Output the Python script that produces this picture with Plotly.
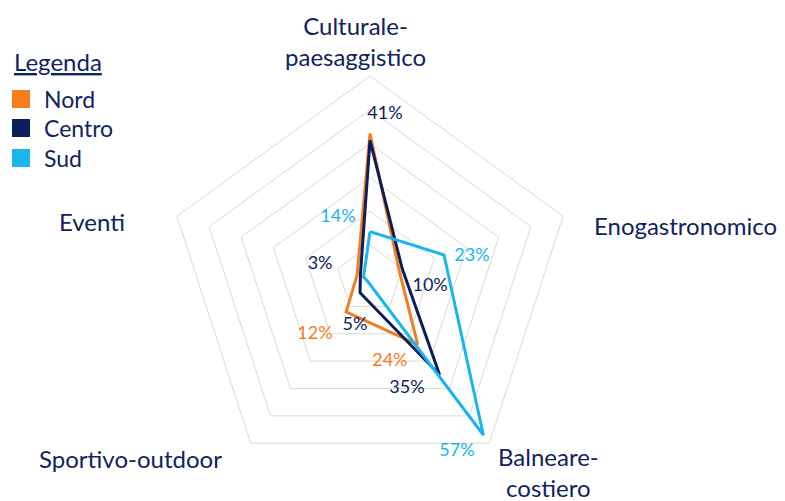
import plotly.graph_objects as go

# ---- data ----
CATEGORIES = ["Culturale-paesaggistico", "Enogastronomico", "Balneare-costiero",
              "Sportivo-outdoor", "Eventi"]
CATEGORY_LABELS = ["Culturale-<br>paesaggistico", "Enogastronomico", "Balneare-<br>costiero",
                   "Sportivo-outdoor", "Eventi"]
SERIES = ["Nord", "Centro", "Sud"]
NORD = [43, 9, 24, 12, 4]
CENTRO = [41, 10, 35, 5, 3]
SUD = [14, 23, 57, 1, 2]
# which values carry a visible % label: (series, category index)
LABELLED = [("Centro", 0), ("Sud", 0), ("Sud", 1), ("Centro", 1), ("Sud", 2),
            ("Centro", 2), ("Nord", 2), ("Nord", 3), ("Centro", 3), ("Centro", 4)]

# ---- style ----
COLORS = {"Nord": "#F47D20", "Centro": "#0B1D5B", "Sud": "#19B5EC"}
TEXT = "#10235F"
FONT = "Lato"
GRID = "#D9D9D9"
# label placement (radius in axis units, angle in degrees clockwise from top)
LABEL_POS = {("Centro", 0): (48.7, 5.2), ("Sud", 0): (20.4, 332.3),
             ("Sud", 1): (30.9, 77.3), ("Centro", 1): (17.9, 96.7),
             ("Sud", 2): (57.0, 153.2), ("Centro", 2): (34.3, 161.4),
             ("Nord", 2): (25.2, 166.5), ("Nord", 3): (23.2, 224.5),
             ("Centro", 3): (14.3, 198.0), ("Centro", 4): (15.4, 286.7)}
W, H = 785, 501
OFF = 8  # page body margin
CAT_POS = [(355, 41), (685, 225), (548, 472), (130, 458), (92, 222)]  # page pixel centres
CX, CY, R = 370, 279, 203
LEG_TITLE = (12, 62)
LEG_ROWS_Y = [99, 128, 158]
LEG_SQ_X = (12, 30)
LEG_TEXT_X = 42
SQ = 18

values = {"Nord": NORD, "Centro": CENTRO, "Sud": SUD}


def fx(px):
    return (px - OFF) / W


def fy(py):
    return 1 - (py - OFF) / H


fig = go.Figure()
for s in SERIES:
    v = values[s]
    fig.add_trace(go.Scatterpolar(
        r=v + [v[0]], theta=CATEGORIES + [CATEGORIES[0]], mode="lines",
        line=dict(color=COLORS[s], width=3), showlegend=False, hoverinfo="skip",
        subplot="polar"))

# percentage labels
for key in LABELLED:
    s, i = key
    rr, th = LABEL_POS[key]
    fig.add_trace(go.Scatterpolar(
        r=[rr], theta=[th], mode="text", text=[f"{values[s][i]}%"],
        textposition="middle center",
        textfont=dict(family=FONT, size=18, color=COLORS[s]),
        showlegend=False, hoverinfo="skip", subplot="polar2", cliponaxis=False))

dom_x = [fx(CX - R), fx(CX + R)]
dom_y = [fy(CY + R), fy(CY - R)]

fig.update_layout(
    width=W, height=H, margin=dict(l=0, r=0, t=0, b=0),
    paper_bgcolor="white", plot_bgcolor="white",
    font=dict(family=FONT, color=TEXT),
    showlegend=False,
    polar=dict(
        domain=dict(x=dom_x, y=dom_y), gridshape="linear", bgcolor="rgba(0,0,0,0)",
        radialaxis=dict(range=[0, 60], dtick=10, showticklabels=False, ticks="",
                        showline=False, gridcolor=GRID, gridwidth=1),
        angularaxis=dict(rotation=90, direction="clockwise", showticklabels=False,
                         ticks="", showgrid=False, showline=True, linecolor=GRID,
                         linewidth=1),
    ),
    polar2=dict(
        domain=dict(x=dom_x, y=dom_y), bgcolor="rgba(0,0,0,0)",
        radialaxis=dict(range=[0, 60], visible=False),
        angularaxis=dict(type="linear", rotation=90, direction="clockwise",
                         visible=False, thetaunit="degrees"),
    ),
)

# category labels
for lab, (px, py) in zip(CATEGORY_LABELS, CAT_POS):
    fig.add_annotation(text=lab, x=fx(px), y=fy(py), xref="paper", yref="paper",
                       xanchor="center", yanchor="middle", showarrow=False,
                       font=dict(family=FONT, size=24, color=TEXT), align="center")

# legend (drawn)
fig.add_annotation(text="<u>Legenda</u>", x=fx(LEG_TITLE[0]), y=fy(LEG_TITLE[1]),
                   xref="paper", yref="paper", xanchor="left", yanchor="middle",
                   showarrow=False, font=dict(family=FONT, size=24, color=TEXT))
for s, yy in zip(SERIES, LEG_ROWS_Y):
    fig.add_shape(type="rect", xref="paper", yref="paper",
                  x0=fx(LEG_SQ_X[0]), x1=fx(LEG_SQ_X[1]),
                  y0=fy(yy + SQ / 2), y1=fy(yy - SQ / 2),
                  fillcolor=COLORS[s], line=dict(width=0))
    fig.add_annotation(text=s, x=fx(LEG_TEXT_X), y=fy(yy), xref="paper", yref="paper",
                       xanchor="left", yanchor="middle", showarrow=False,
                       font=dict(family=FONT, size=23, color=TEXT))

fig.write_html("out.html")
